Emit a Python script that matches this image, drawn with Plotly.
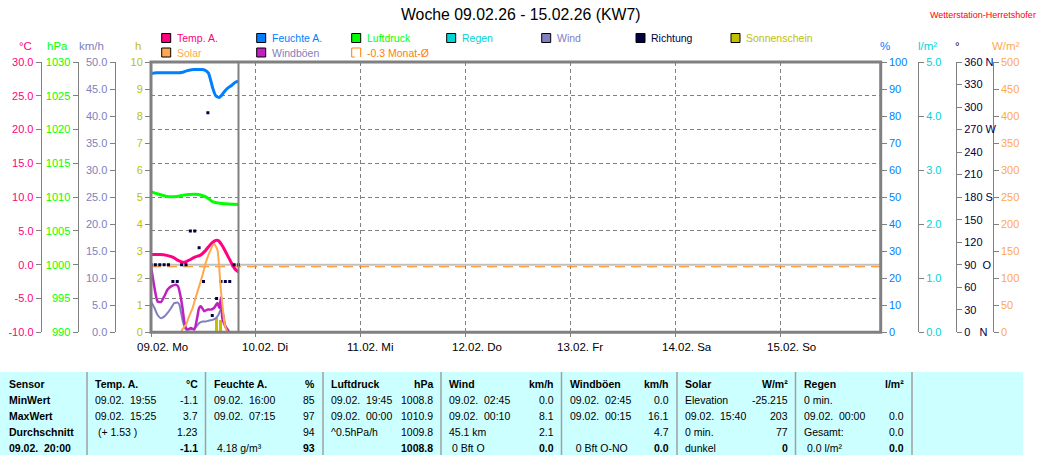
import plotly.graph_objects as go

# ---------------- data ----------------
TITLE = "Woche 09.02.26 - 15.02.26 (KW7)"
STATION = "Wetterstation-Herretshofer"
DAY_LABELS = ["09.02. Mo", "10.02. Di", "11.02. Mi", "12.02. Do", "13.02. Fr", "14.02. Sa", "15.02. So"]
DAY_HOURS = [0, 24, 48, 72, 96, 120, 144]
NOW_HOUR = 20
MONTH_AVG = -0.3
FREEZE = 0.0
X_END = 166.8

TEMP_HOURS = [0, 2.0, 3.6, 5.1, 6.2, 7.0, 7.7, 8.9, 10.0, 11.2, 12.3, 13.4, 14.2, 14.8, 15.4, 16.1, 16.9, 17.6, 18.4, 19.2, 20.0]
TEMP = [1.5, 1.5, 1.38, 1.09, 0.64, 0.42, 0.38, 0.74, 1.14, 1.38, 1.98, 2.86, 3.36, 3.6, 3.56, 3.0, 2.1, 1.23, 0.25, -0.64, -1.09]

HUM_HOURS = [0, 1.3, 3.6, 7.0, 8.1, 9.7, 11.6, 12.3, 13.1, 13.6, 14.1, 14.8, 15.6, 16.1, 16.9, 17.6, 18.4, 19.2, 20.0]
HUM = [95.7, 96.0, 96.0, 96.1, 96.7, 97.2, 97.2, 97.0, 96.0, 93.5, 90.4, 87.5, 86.9, 87.6, 89.3, 90.4, 91.3, 92.4, 92.9]

PRES_HOURS = [0, 0.9, 2.0, 3.6, 5.9, 7.4, 8.9, 10.8, 12.3, 13.1, 14.2, 15.7, 17.6, 20.0]
PRES = [1010.8, 1010.6, 1010.4, 1010.1, 1010.1, 1010.3, 1010.4, 1010.4, 1010.1, 1009.8, 1009.3, 1009.1, 1009.0, 1008.9]

WIND_HOURS = [0, 0.8, 1.5, 2.3, 3.0, 3.8, 4.6, 5.3, 6.1, 6.5, 6.8, 7.2, 7.6, 8.0, 8.7, 9.5, 10.3, 11.0, 11.8, 12.5, 13.3, 14.1, 14.8, 15.4, 16.0, 16.3, 16.7, 17.1, 17.5, 18.0, 20.0]
WIND = [5.7, 4.5, 3.2, 2.6, 2.9, 3.6, 4.5, 5.4, 5.5, 5.1, 3.9, 2.3, 1.1, 0.5, 0.5, 0.6, 1.0, 1.7, 2.0, 2.0, 2.2, 2.3, 2.6, 3.2, 4.3, 4.2, 2.6, 0.8, 0.3, 0.0, 0.0]

GUST_HOURS = [0, 0.5, 1.0, 1.5, 2.3, 3.0, 3.8, 4.6, 5.7, 6.2, 6.7, 7.2, 7.6, 8.0, 8.4, 9.1, 9.9, 10.6, 11.0, 11.4, 12.2, 12.9, 13.7, 14.4, 15.2, 15.6, 16.0, 16.3, 17.0, 17.5, 18.0, 20.0]
GUST = [12.2, 9.7, 7.3, 5.7, 5.6, 6.6, 7.9, 8.5, 8.8, 8.5, 6.9, 4.5, 2.0, 0.8, 0.5, 0.8, 0.5, 2.9, 4.5, 4.8, 3.9, 4.2, 4.2, 4.5, 5.4, 4.5, 6.5, 2.6, 1.1, 0.5, 0.0, 0.0]

SOLAR_HOURS = [0, 6.8, 7.2, 8.0, 8.7, 9.5, 10.3, 11.0, 11.8, 12.5, 13.3, 14.4, 15.2, 15.6, 16.0, 16.4, 16.7, 17.1, 17.6, 20.0]
SOLAR = [0, 0, 5.9, 13.9, 29.3, 44.8, 66.4, 84.9, 106.5, 128.1, 146.6, 164, 152, 118, 75, 45, 22, 7, 0, 0]

SUN_HOURS = [15.0, 15.9]
SUN = [0.53, 0.45]

RAIN_HOURS = [0, 20]
RAIN = [0.0, 0.0]

DIR_HOURS = [0, 1, 2, 3, 4, 5, 6, 7, 8, 9, 10, 11, 12, 13, 14, 15, 16, 17, 18, 19, 20]
DIR = [90, 90, 90, 90, 90, 67.5, 67.5, 90, 90, 135, 135, 112.5, 67.5, 292.5, 22.5, 45, 67.5, 67.5, 67.5, 90, 90]

TEMP_TICKS = [-10, -5, 0, 5, 10, 15, 20, 25, 30]
TEMP_TICKTEXT = ["-10.0", "-5.0", "0.0", "5.0", "10.0", "15.0", "20.0", "25.0", "30.0"]
DIR_TICKS = [0, 30, 60, 90, 120, 150, 180, 210, 240, 270, 300, 330, 360]
DIR_TICKTEXT = ["0\u00a0\u00a0\u00a0N", "30", "60", "90\u00a0\u00a0O", "120", "150", "180 S", "210", "240", "270 W", "300", "330", "360 N"]

LEGEND_NAMES = ["Temp. A.", "Feuchte A.", "Luftdruck", "Regen", "Wind", "Richtung", "Sonnenschein",
                "Solar", "Windböen", "-0.3 Monat-Ø"]

TABLE_ROWS = ["Sensor", "MinWert", "MaxWert", "Durchschnitt", "09.02.\u00a0\u00a020:00"]
TABLE_HEADERS = ["Temp. A.", "Feuchte A.", "Luftdruck", "Wind", "Windböen", "Solar", "Regen"]
TABLE_UNITS = ["°C", "%", "hPa", "km/h", "km/h", "W/m²", "l/m²"]
TABLE_LEFT = [
    ["09.02.\u00a0\u00a019:55", "09.02.\u00a0\u00a015:25", "\u00a0(+ 1.53 )", ""],
    ["09.02.\u00a0\u00a016:00", "09.02.\u00a0\u00a007:15", "", "\u00a04.18 g/m³"],
    ["09.02.\u00a0\u00a019:45", "09.02.\u00a0\u00a000:00", "^0.5hPa/h", ""],
    ["09.02.\u00a0\u00a002:45", "09.02.\u00a0\u00a000:10", "45.1 km", "\u00a00 Bft O"],
    ["09.02.\u00a0\u00a002:45", "09.02.\u00a0\u00a000:15", "", "\u00a0\u00a00 Bft O-NO"],
    ["Elevation", "09.02.\u00a0\u00a015:40", "0 min.", "dunkel"],
    ["0 min.", "09.02.\u00a0\u00a000:00", "Gesamt:", "\u00a00.0 l/m²"],
]
TABLE_RIGHT = [
    ["-1.1", "3.7", "1.23", "-1.1"],
    ["85", "97", "94", "93"],
    ["1008.8", "1010.9", "1009.8", "1008.8"],
    ["0.0", "8.1", "2.1", "0.0"],
    ["0.0", "16.1", "4.7", "0.0"],
    ["-25.215", "203", "77", "0"],
    ["", "0.0", "0.0", "0.0"],
]

# ---------------- styles ----------------
C_TEMP = "#ff0080"
C_HUM = "#0080ff"
C_PRES = "#00ff00"
C_RAIN = "#00d4d4"
C_WIND = "#8080c0"
C_DIR = "#000040"
C_SUN = "#c0c000"
C_SOLAR = "#ffa850"
C_GUST = "#c020c0"
C_AVG = "#ff8000"
C_AX = "#808080"
FONT = "Liberation Sans, Arial, sans-serif"

W, H = 1055, 455
PL, PR, PT, PB = 151.0, 880.7, 62.0, 332.3

def fx(px):
    return px / W

def fy(py):
    return 1 - py / H

fig = go.Figure()

# reference lines (freezing point and monthly mean) on the temperature axis
fig.add_trace(go.Scatter(x=[0, X_END], y=[FREEZE, FREEZE], yaxis="y2", mode="lines",
                         line=dict(color="#c0c0c0", width=2.2)))
fig.add_trace(go.Scatter(x=[0, X_END], y=[MONTH_AVG, MONTH_AVG], yaxis="y2", mode="lines",
                         line=dict(color=C_AVG, width=1, dash="10px,6px")))

fig.add_trace(go.Bar(x=SUN_HOURS, y=SUN, width=0.45, marker=dict(color=C_SUN, line=dict(width=0)), yaxis="y"))
fig.add_trace(go.Scatter(x=RAIN_HOURS, y=RAIN, yaxis="y6", mode="lines", line=dict(color=C_RAIN, width=2, dash="dot")))
fig.add_trace(go.Scatter(x=SOLAR_HOURS, y=SOLAR, yaxis="y8", mode="lines", line=dict(color=C_SOLAR, width=2, shape="spline", smoothing=0.5)))
fig.add_trace(go.Scatter(x=WIND_HOURS, y=WIND, yaxis="y4", mode="lines", line=dict(color=C_WIND, width=2, shape="spline", smoothing=0.5)))
fig.add_trace(go.Scatter(x=GUST_HOURS, y=GUST, yaxis="y4", mode="lines", line=dict(color=C_GUST, width=2.5, shape="spline", smoothing=0.5)))
fig.add_trace(go.Scatter(x=PRES_HOURS, y=PRES, yaxis="y3", mode="lines", line=dict(color=C_PRES, width=3, shape="spline", smoothing=0.6)))
fig.add_trace(go.Scatter(x=HUM_HOURS, y=HUM, yaxis="y5", mode="lines", line=dict(color=C_HUM, width=3, shape="spline", smoothing=0.6)))
fig.add_trace(go.Scatter(x=TEMP_HOURS, y=TEMP, yaxis="y2", mode="lines", line=dict(color=C_TEMP, width=3, shape="spline", smoothing=0.6)))
fig.add_trace(go.Scatter(x=DIR_HOURS, y=DIR, yaxis="y7", mode="markers", marker=dict(symbol="square", size=3, color=C_DIR, line=dict(width=0))))

tickfont = lambda c: dict(family=FONT, size=11, color=c)
free = dict(anchor="free", overlaying="y", showline=True, linecolor=C_AX, linewidth=1, ticks="outside",
            ticklen=5, tickcolor=C_AX, showgrid=False, zeroline=False, automargin=False)

fig.update_layout(
    width=W, height=H, autosize=False,
    margin=dict(l=0, r=0, t=0, b=0, pad=0, autoexpand=False),
    paper_bgcolor="white", plot_bgcolor="rgba(0,0,0,0)",
    showlegend=False, bargap=0,
    font=dict(family=FONT, size=11, color="#000000"),
    xaxis=dict(domain=[fx(PL), fx(PR)], range=[0, X_END], tickvals=DAY_HOURS, showticklabels=False,
               ticks="outside", ticklen=4, tickcolor=C_AX, showgrid=True, gridcolor=C_AX, gridwidth=1,
               griddash="4px,3px", zeroline=False, showline=False, automargin=False),
    yaxis=dict(domain=[fy(PB), fy(PT)], range=[0, 10], dtick=1, tick0=0, side="left", anchor="x",
               ticks="outside", ticklen=5, tickcolor=C_AX, tickfont=tickfont(C_SUN), showgrid=False,
               zeroline=False, showline=False, automargin=False),
    yaxis2=dict(free, position=fx(40.7), side="left", range=[-10, 30], tickvals=TEMP_TICKS,
                ticktext=TEMP_TICKTEXT, tickfont=tickfont(C_TEMP), showgrid=True, gridcolor=C_AX,
                gridwidth=1, griddash="4px,3px"),
    yaxis3=dict(free, position=fx(77.5), side="left", range=[990, 1030], dtick=5, tick0=990,
                tickfont=tickfont(C_PRES)),
    yaxis4=dict(free, position=fx(114.5), side="left", range=[0, 50], dtick=5, tick0=0, tickformat=".1f",
                tickfont=tickfont(C_WIND)),
    yaxis5=dict(anchor="x", overlaying="y", side="right", range=[0, 100], dtick=10, tick0=0,
                ticks="outside", ticklen=5, tickcolor=C_AX, tickfont=tickfont(C_HUM), showgrid=False,
                zeroline=False, showline=False, automargin=False),
    yaxis6=dict(free, position=fx(918), side="right", range=[0, 5], dtick=1, tick0=0, tickformat=".1f",
                tickfont=tickfont(C_RAIN)),
    yaxis7=dict(free, position=fx(956), side="right", range=[0, 360], tickvals=DIR_TICKS,
                ticktext=DIR_TICKTEXT, tickfont=tickfont(C_DIR)),
    yaxis8=dict(free, position=fx(992.7), side="right", range=[0, 500], dtick=50, tick0=0,
                tickfont=tickfont(C_SOLAR)),
)

shapes = []
shapes.append(dict(type="line", xref="x", x0=NOW_HOUR, x1=NOW_HOUR, yref="paper", y0=fy(PB), y1=fy(PT),
                   line=dict(color=C_AX, width=2), layer="above"))
# plot frame
shapes.append(dict(type="rect", xref="paper", yref="paper", x0=fx(PL), x1=fx(PR), y0=fy(PB), y1=fy(PT),
                   line=dict(color=C_AX, width=3), layer="above"))

ann = []

def text(x, y, s, color="#000000", size=11, anchor="left", bold=False):
    ann.append(dict(x=fx(x), y=fy(y), xref="paper", yref="paper",
                    text=("<b>%s</b>" % s) if bold else s, showarrow=False,
                    xanchor=anchor, yanchor="middle", borderpad=0,
                    font=dict(family=FONT, color=color, size=size)))

# title & station
text(520, 15, TITLE, size=15.8, anchor="center")
text(1037, 15, STATION, color="#ff0000", size=9, anchor="right")

# unit labels
for s, x, c in [("°C", 25, C_TEMP), ("hPa", 57.5, C_PRES), ("km/h", 91.5, C_WIND), ("h", 138, C_SUN),
                ("%", 885, C_HUM), ("l/m²", 927, C_RAIN), ("°", 957, C_DIR), ("W/m²", 1005.5, C_SOLAR)]:
    text(x, 46.5, s, color=c, size=11.5, anchor="center")

# legend
sq_colors = [C_TEMP, C_HUM, C_PRES, C_RAIN, C_WIND, C_DIR, C_SUN, C_SOLAR, C_GUST, None]
txt_colors = [C_TEMP, C_HUM, C_PRES, C_RAIN, C_WIND, C_DIR, C_SUN, C_SOLAR, C_WIND, C_AVG]
sq_x = [161.7, 256.7, 351.7, 446.7, 541.7, 636.0, 731.0, 161.7, 256.7, 351.7]
sq_y = [38.0, 38.0, 38.0, 38.0, 38.0, 38.0, 38.0, 52.5, 52.5, 52.5]
for name, sc, tc, x, y in zip(LEGEND_NAMES, sq_colors, txt_colors, sq_x, sq_y):
    if sc is not None:
        shapes.append(dict(type="rect", xref="paper", yref="paper", x0=fx(x), x1=fx(x + 9),
                           y0=fy(y + 4.5), y1=fy(y - 4.5), fillcolor=sc, line=dict(color="#000000", width=1)))
    else:
        for (a, b, c2, d) in [(x, y + 4.5, x, y - 4.5), (x, y - 4.5, x + 9, y - 4.5),
                              (x + 9, y - 4.5, x + 9, y + 4.5), (x, y + 4.5, x + 3, y + 4.5)]:
            shapes.append(dict(type="line", xref="paper", yref="paper", x0=fx(a), y0=fy(b), x1=fx(c2), y1=fy(d),
                               line=dict(color=C_AVG, width=1)))
    text(x + 14, y, name, color=tc, size=10.5)

# day labels on the time axis
for h, lab in zip(DAY_HOURS, DAY_LABELS):
    ann.append(dict(x=h, xref="x", y=fy(347), yref="paper", text=lab, showarrow=False,
                    xanchor="left", yanchor="middle", xshift=-15, borderpad=0,
                    font=dict(family=FONT, size=11.5, color="#000000")))

# table
T_TOP = 372
COL_EDGES = [87, 205.5, 323, 441, 561.5, 677, 795.5, 912]
ROW_Y = [384, 400, 416, 432, 448]
shapes.append(dict(type="rect", xref="paper", yref="paper", x0=0, x1=fx(1023), y0=0, y1=fy(T_TOP),
                   fillcolor="#ccffff", line=dict(width=0), layer="below"))
for e in COL_EDGES:
    shapes.append(dict(type="line", xref="paper", yref="paper", x0=fx(e), x1=fx(e), y0=0, y1=fy(T_TOP),
                       line=dict(color="#a0a0a0", width=1.5)))
for r, lab in enumerate(TABLE_ROWS):
    text(8, ROW_Y[r], lab, size=10.5, bold=True)
for c in range(len(TABLE_HEADERS)):
    x0, x1 = COL_EDGES[c], COL_EDGES[c + 1]
    text(x0 + 7, ROW_Y[0], TABLE_HEADERS[c], size=10.5, bold=True)
    text(x1 - 7, ROW_Y[0], TABLE_UNITS[c], size=10.5, bold=True, anchor="right")
    for r in range(4):
        if TABLE_LEFT[c][r]:
            text(x0 + 7, ROW_Y[r + 1], TABLE_LEFT[c][r], size=10.5)
        if TABLE_RIGHT[c][r]:
            text(x1 - 7, ROW_Y[r + 1], TABLE_RIGHT[c][r], size=10.5, anchor="right", bold=(r == 3))

fig.update_layout(shapes=shapes, annotations=ann)

POST = ("document.documentElement.style.margin='0';document.documentElement.style.padding='0';"
        "document.documentElement.style.overflow='hidden';"
        "document.body.style.margin='0';document.body.style.padding='0';document.body.style.overflow='hidden';"
        "var g=document.querySelector('.plotly-graph-div');"
        "if(g){g.style.position='absolute';g.style.left='0px';g.style.top='0px';}")
fig.write_html("out.html", include_plotlyjs=True, config={"displayModeBar": False}, post_script=POST)
